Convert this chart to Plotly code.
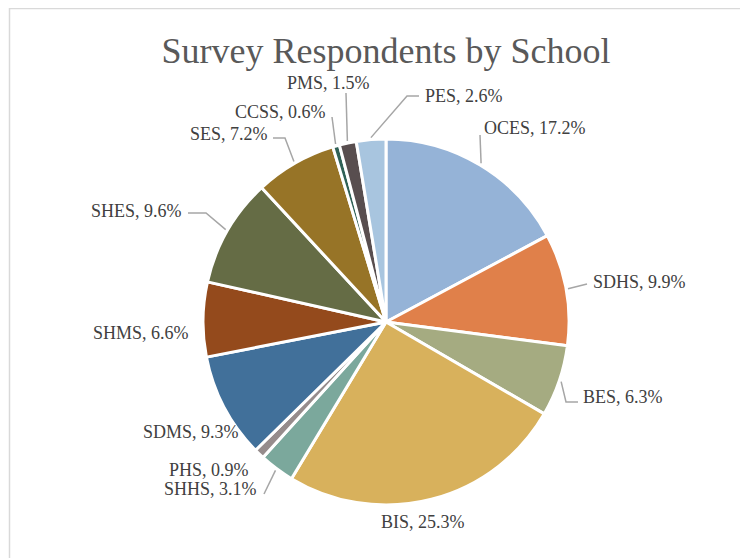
import math
import plotly.graph_objects as go

# ---- data ----
schools = ["OCES", "SDHS", "BES", "BIS", "SHHS", "PHS", "SDMS", "SHMS",
           "SHES", "SES", "CCSS", "PMS", "PES"]
shares = [17.2, 9.9, 6.3, 25.3, 3.1, 0.9, 9.3, 6.6, 9.6, 7.2, 0.6, 1.5, 2.6]

# ---- styles ----
colors = ["#95B3D7", "#E0804A", "#A5AB81", "#D8B15C", "#7BA89C", "#968C8C",
          "#41709A", "#944A1C", "#656C45", "#977427", "#2F6156", "#584E4F",
          "#A8C5DF"]

W, H = 748, 558
OFF = 8  # page body margin in the browser
CX, CY, R = 386, 322, 183  # pie centre / radius in screen px

# label placement (screen px) and leader-line waypoints (screen px) -- styling only
label_pos = {
    "OCES": (482, 128, "left"), "SDHS": (591, 282, "left"), "BES": (581, 397, "left"),
    "BIS": (423, 522, "center"), "SHHS": (259, 489, "right"), "PHS": (251, 470, "right"),
    "SDMS": (241, 432, "right"), "SHMS": (191, 333, "right"), "SHES": (184, 211, "right"),
    "SES": (270, 134, "right"), "CCSS": (328, 112, "right"), "PMS": (328, 83, "center"),
    "PES": (423, 96, "left"),
}
leader_pts = {
    "OCES": [(480, 135)],
    "SDHS": [(587, 284)],
    "BES": [(566, 402), (578, 402)],
    "SHHS": [(264, 494)],
    "SHES": [(206, 213), (188, 213)],
    "SES": [(285, 138), (273, 138)],
    "CCSS": [(332, 117)],
    "PMS": [(346, 93)],
    "PES": [(407, 96), (419, 96)],
}

def px(x):
    return (x - OFF) / W

def py(y):
    return 1 - (y - OFF) / H

fig = go.Figure()
fig.add_trace(go.Pie(
    labels=schools, values=shares, sort=False, direction="clockwise", rotation=0,
    marker=dict(colors=colors, line=dict(color="white", width=3)),
    textinfo="none", hoverinfo="label+value", showlegend=False,
    domain=dict(x=[px(CX - R), px(CX + R)], y=[py(CY + R), py(CY - R)]),
))

total = sum(shares)
cum = 0.0
shapes = []
annotations = []
for name, v in zip(schools, shares):
    mid = (cum + v / 2) / total * 2 * math.pi
    cum += v
    ex = CX + (R + 2) * math.sin(mid)
    ey = CY - (R + 2) * math.cos(mid)
    if name in leader_pts:
        pts = [(ex, ey)] + leader_pts[name]
        path = "M " + " L ".join(f"{px(a):.5f},{py(b):.5f}" for a, b in pts)
        shapes.append(dict(type="path", path=path, xref="paper", yref="paper",
                           line=dict(color="#A6A6A6", width=1.5)))
    lx, ly, anc = label_pos[name]
    annotations.append(dict(
        x=px(lx), y=py(ly), xref="paper", yref="paper", showarrow=False,
        xanchor=anc, yanchor="middle", text=f"{name}, {v}%",
        font=dict(family="Liberation Serif", size=18, color="#404040"),
    ))

# outer chart-area border (left/top visible)
shapes.append(dict(type="rect", xref="paper", yref="paper",
                   x0=px(9.5), x1=1.2, y0=-0.2, y1=py(8.5),
                   line=dict(color="#D9D9D9", width=1.5), layer="below"))

fig.update_layout(
    width=W, height=H, margin=dict(l=0, r=0, t=0, b=0),
    paper_bgcolor="white", plot_bgcolor="white",
    title=dict(text="Survey Respondents by School", x=px(386), xanchor="center",
               y=py(50), yanchor="middle",
               font=dict(family="Liberation Serif", size=36, color="#595959")),
    shapes=shapes, annotations=annotations,
)

fig.write_html("out.html")
